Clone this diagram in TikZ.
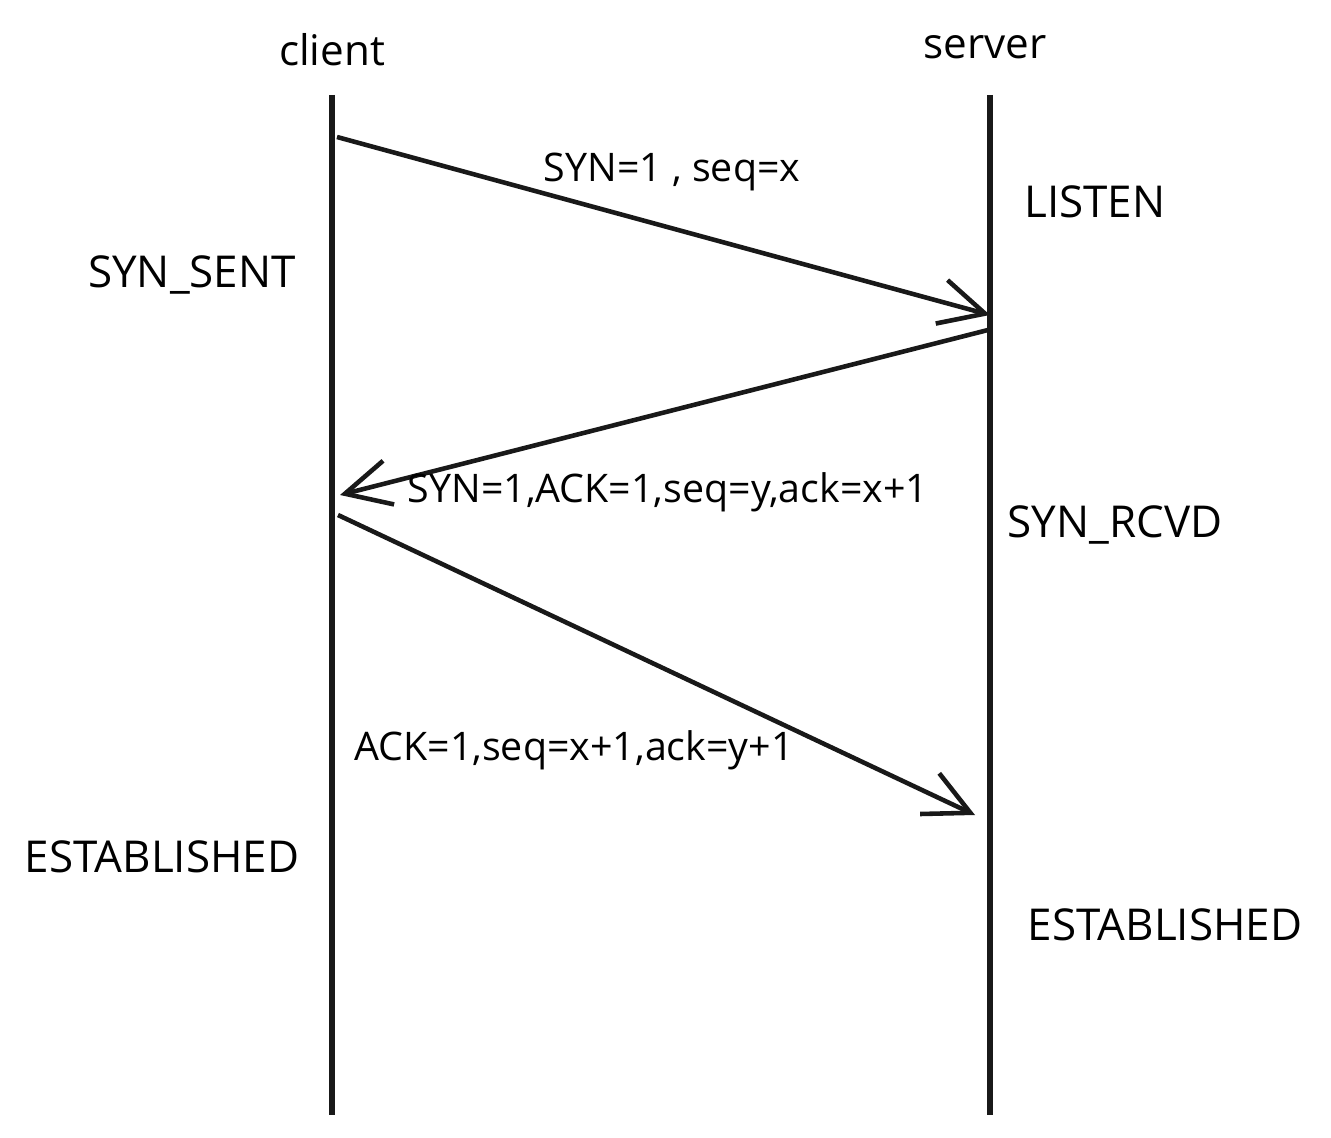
\documentclass[tikz,border=0pt]{standalone}
\usepackage{fontspec}
\setmainfont{Open Sans}
\usetikzlibrary{arrows.meta}

\begin{document}
\begin{tikzpicture}[
		every node/.append style={align=center,font=\fontsize{12.5}{14}\selectfont},
		lifeline/.style={line width=1.6pt,black!90},
		msg/.style={line width=1.3pt,black!90,-{Straight Barb[length=4.5mm,width=4.5mm,line width=1.3pt]}},
		msglabel/.style={font=\fontsize{11.2}{13}\selectfont},
		state/.style={}
	]
	\useasboundingbox (0,0) rectangle (13.31,11.37);
	% lifelines
	\node[msglabel,font=\fontsize{12}{14}\selectfont] (client) at (3.32,10.87) {client};
	\node[msglabel,font=\fontsize{12}{14}\selectfont] (server) at (9.85,10.90) {server};
	\coordinate (CT) at (3.32,10.42);
	\coordinate (CB) at (3.32,0.22);
	\coordinate (ST) at (9.90,10.42);
	\coordinate (SB) at (9.90,0.22);
	\draw[lifeline] (CT) -- (CB);
	\draw[lifeline] (ST) -- (SB);
	% message ends
	\coordinate (A1) at (3.37,10.00);
	\coordinate (B1) at (9.90,8.22);
	\coordinate (B2) at (9.88,8.07);
	\coordinate (A2) at (3.40,6.42);
	\coordinate (A3) at (3.38,6.22);
	\coordinate (B3) at (9.75,3.22);
	\draw[msg] (A1) -- (B1);
	\draw[msg] (B2) -- (A2);
	\draw[msg] (A3) -- (B3);
	% labels
	\node[msglabel] (m1) at (6.72,9.65) {SYN=1 , seq=x};
	\node[msglabel] (m2) at (6.68,6.45) {SYN=1,ACK=1,seq=y,ack=x+1};
	\node[msglabel] (m3) at (5.74,3.87) {ACK=1,seq=x+1,ack=y+1};
	% states
	\node[state] (listen) at (10.95,9.35) {LISTEN};
	\node[state] (sent) at (1.92,8.62) {SYN\_SENT};
	\node[state] (rcvd) at (11.15,6.12) {SYN\_RCVD};
	\node[state] (estc) at (1.62,2.80) {ESTABLISHED};
	\node[state] (ests) at (11.65,2.12) {ESTABLISHED};
\end{tikzpicture}
\end{document}
